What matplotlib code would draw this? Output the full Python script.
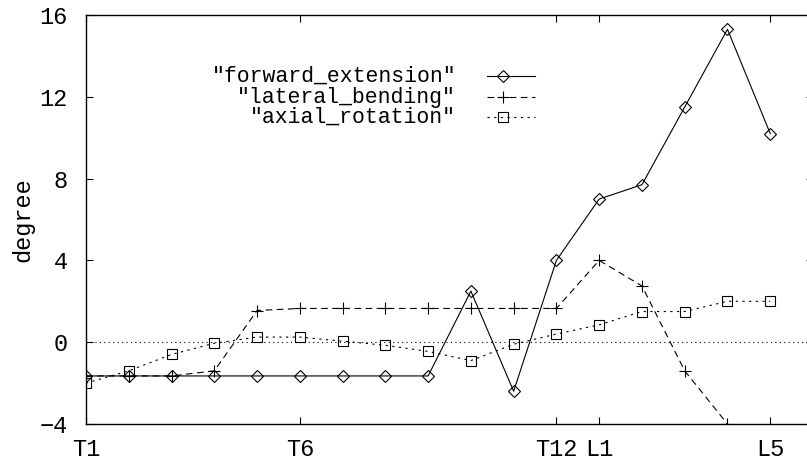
import matplotlib
matplotlib.use("Agg")
import matplotlib.pyplot as plt
import numpy as np

plt.rcParams['font.family'] = ['Liberation Mono', 'DejaVu Sans Mono']

# vertebra positions 1..17
x = np.arange(1, 18)
forward_extension = [-1.65, -1.65, -1.65, -1.65, -1.65, -1.65, -1.65, -1.65, -1.65,
                     2.5, -2.4, 4.0, 7.0, 7.7, 11.5, 15.3, 10.2]
lateral_bending = [-1.65, -1.65, -1.65, -1.4, 1.55, 1.65, 1.65, 1.65, 1.65,
                   1.65, 1.65, 1.65, 4.0, 2.75, -1.4, -4.0]
axial_rotation = [-2.0, -1.4, -0.6, -0.05, 0.25, 0.25, 0.05, -0.15, -0.45,
                  -0.9, -0.1, 0.4, 0.85, 1.5, 1.5, 2.0, 2.0]
xtick_pos = [1, 6, 12, 13, 17]
xtick_labels = ["T1", "T6", "T12", "L1", "L5"]
yticks = [-4, 0, 4, 8, 12, 16]

W, H = 807, 461
fs = 17
fig = plt.figure(figsize=(W / 100, H / 100), dpi=100)
ax = fig.add_axes([86 / W, 37 / H, 727 / W, 409 / H])

lw = 0.8
ax.axhline(0, color="black", lw=lw, ls=(0, (1, 3)), zorder=1)

series = [
    (forward_extension, "-", "D", 6.5, '"forward_extension"'),
    (lateral_bending, (0, (6, 4)), "+", 9, '"lateral_bending"'),
    (axial_rotation, (0, (2, 4)), "s", 7, '"axial_rotation"'),
]
rows_y = [76, 97, 117]
for (vals, ls, mk, ms, label), ry in zip(series, rows_y):
    ax.plot(x[:len(vals)], vals, color="black", lw=lw, ls=ls, marker=mk, ms=ms,
            mfc="none", mec="black", mew=0.8, clip_on=True, zorder=3)
    # gnuplot-style key
    fig.text(456 / W, 1 - ry / H, label, ha="right", va="center", fontsize=15.5)
    fig.add_artist(plt.Line2D([487 / W, 535 / W], [1 - ry / H] * 2,
                              color="black", lw=lw, ls=ls))
    fig.add_artist(plt.Line2D([503 / W], [1 - ry / H], color="black", ls="none",
                              marker=mk, ms=ms, mfc="none", mec="black", mew=0.8))

ax.set_xlim(1, 18)
ax.set_ylim(-4, 16)
ax.set_xticks(xtick_pos)
ax.set_xticklabels(xtick_labels)
ax.set_yticks(yticks)
ax.tick_params(direction="in", length=5, width=0.8, top=True, right=True,
               labelsize=fs)
ax.tick_params(axis="x", pad=10)
ax.tick_params(axis="y", pad=13)
ax.set_ylabel("degree", fontsize=fs, labelpad=4)
for s in ax.spines.values():
    s.set_linewidth(1.0)

fig.savefig("out.png", dpi=100)
